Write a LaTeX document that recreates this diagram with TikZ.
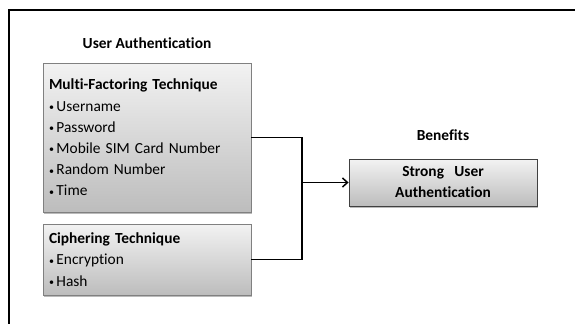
\documentclass[tikz,border=0pt]{standalone}
\usepackage{fontspec}
\setmainfont{Carlito}[Ligatures=NoCommon]
\usetikzlibrary{shadows,arrows.meta}
\newcommand{\bul}{\raisebox{0.5pt}{\fontsize{10}{10}\selectfont•}\hspace{2.5pt}}
\tikzset{
  box/.style={draw=black!50, line width=0.8pt, top color=black!5, bottom color=black!26,
    drop shadow={shadow xshift=1.2pt, shadow yshift=-1.5pt, fill=black!45, opacity=.6},
    align=left, font=\fontsize{15.4}{21.2}\selectfont, inner sep=0pt},
  title/.style={font=\bfseries\fontsize{15.4}{17}\selectfont},
  conn/.style={line width=1.5pt, black},
  frame/.style={line width=2pt, black}
}
\begin{document}
\begin{tikzpicture}[x=1pt,y=-1pt]
\useasboundingbox (0,0) rectangle (575,324);
\fill[white] (0,0) rectangle (575,324);
\draw[frame] (575,10) -- (9,10) -- (9,324);
\node[title] (t1) at (147,43) {User Authentication};
\node[title] (t2) at (443,135) {Benefits};
\node[box, minimum width=208pt, minimum height=149pt, text width=196pt] (multi) at (147,137.5)
  {\textbf{Multi-Factoring Technique}\\\bul Username\\\bul Password\\\bul Mobile SIM Card Number\\\bul Random Number\\\bul Time};
\node[box, minimum width=208pt, minimum height=71pt, text width=196pt] (ciph) at (147,259.5)
  {\textbf{Ciphering Technique}\\\bul Encryption\\\bul Hash};
\node[box, draw=black!75, minimum width=188pt, minimum height=47pt, text width=180pt, align=center,
  font=\bfseries\fontsize{15.4}{21}\selectfont] (strong) at (443,182.5)
  {Strong\ \ User\\Authentication};
\coordinate (j) at (302,0);
\draw[conn] (multi.east) -- (multi.east -| j) -- (ciph.east -| j) -- (ciph.east);
\draw[conn, -{Straight Barb[length=5pt,width=9pt]}] (j |- strong.west) -- (strong.west);
\end{tikzpicture}
\end{document}
